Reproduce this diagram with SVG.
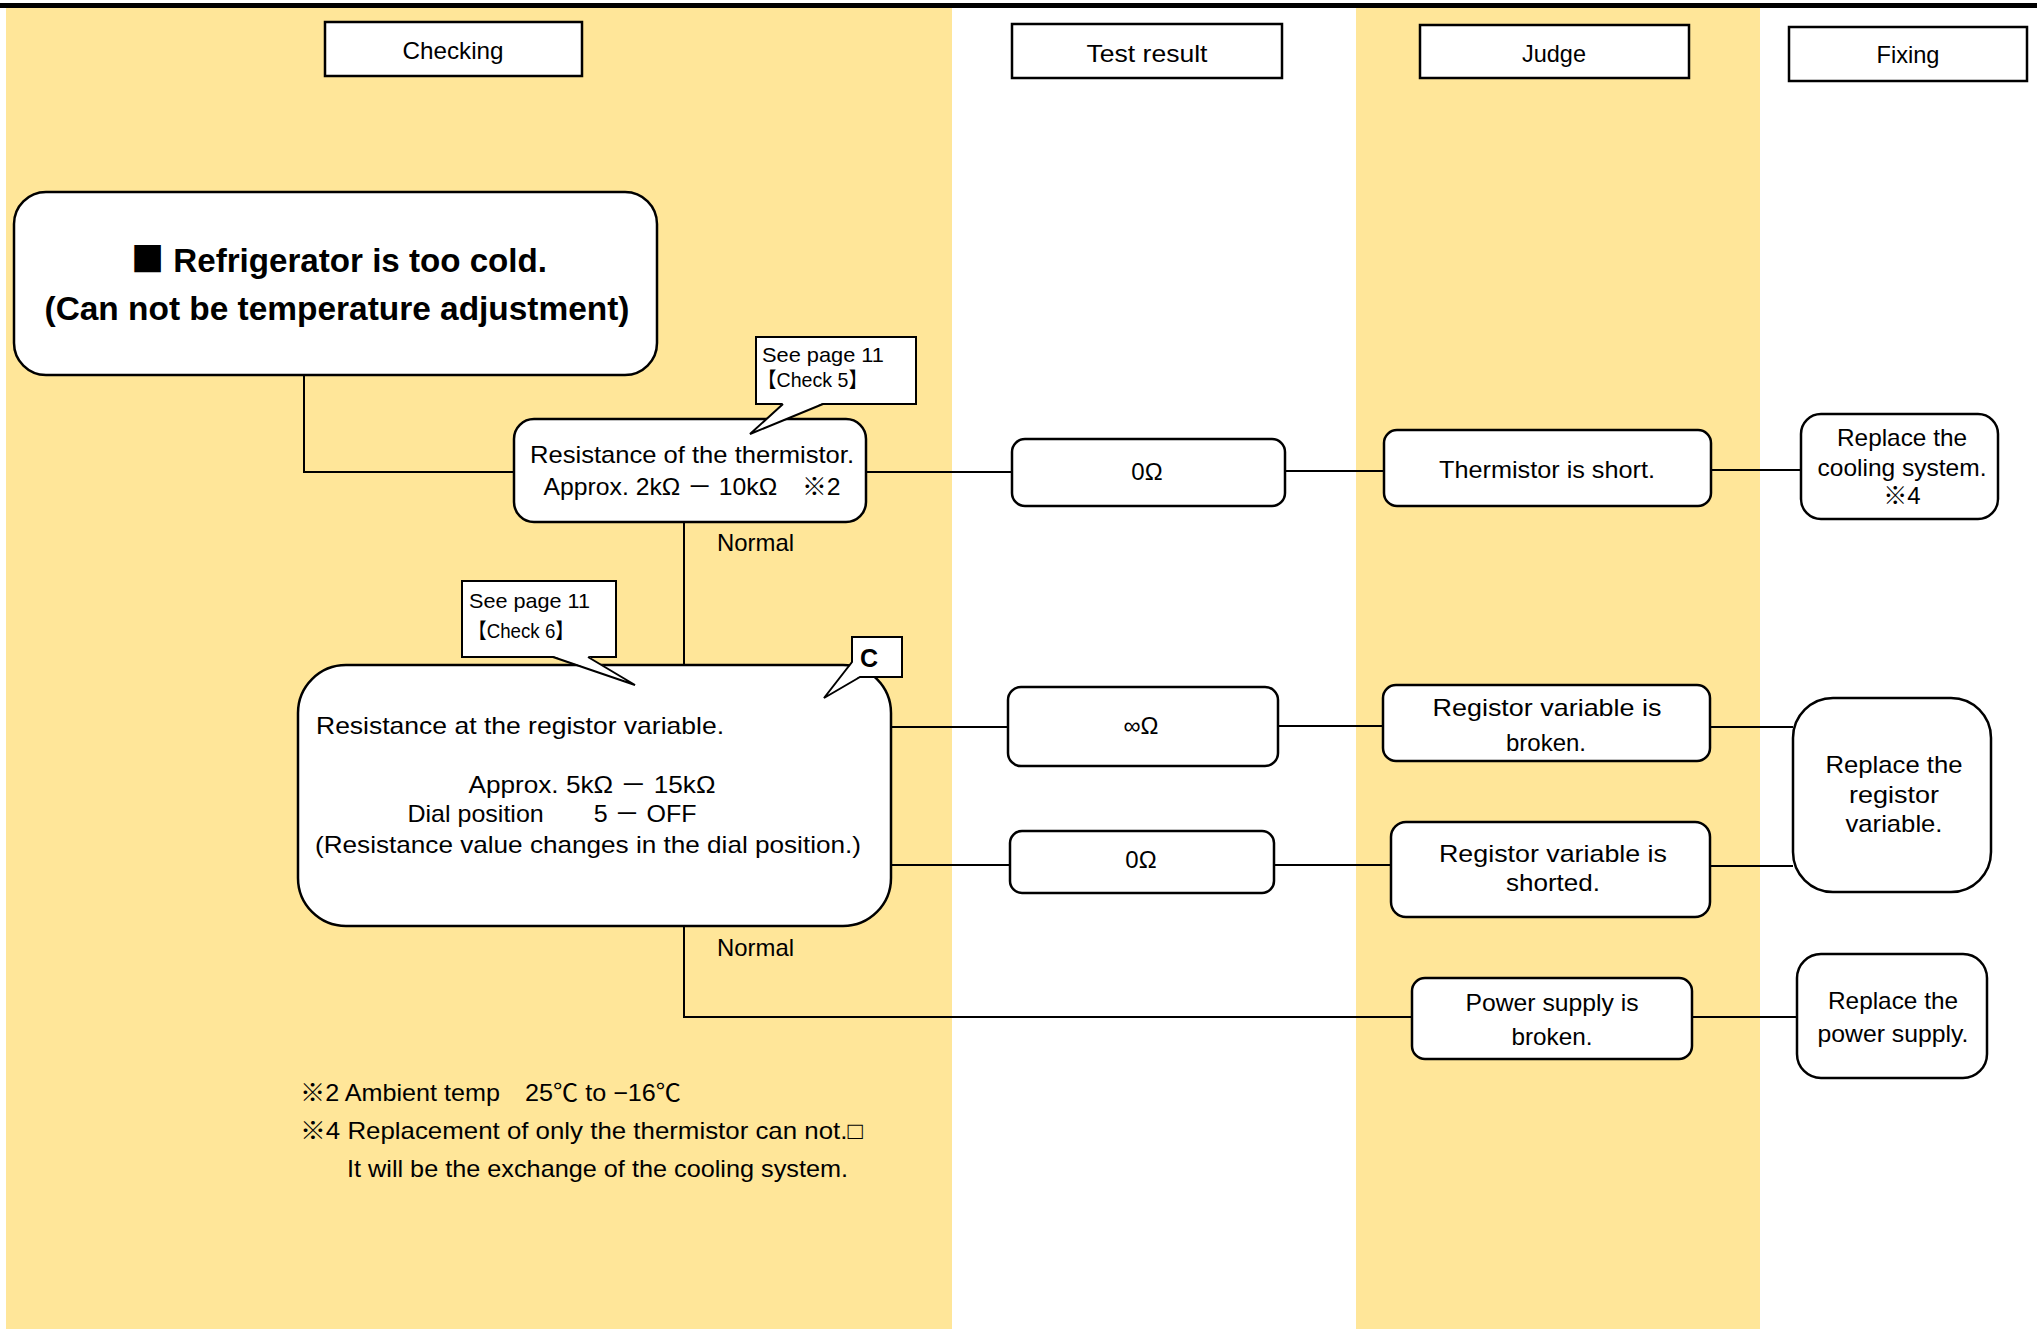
<svg xmlns="http://www.w3.org/2000/svg" width="2037" height="1329" viewBox="0 0 2037 1329">
<style>
text{font-family:"Liberation Sans","Noto Sans CJK JP",sans-serif;font-size:24px;fill:#000}
.cjk{font-family:"Noto Sans CJK JP",sans-serif}
.hdr{fill:#fff;stroke:#000;stroke-width:2.5}
.node{fill:#fff;stroke:#000;stroke-width:2.5}
.call{fill:#fff;stroke:#000;stroke-width:2}
.wire{fill:none;stroke:#000;stroke-width:2}
.m{text-anchor:middle}
.s{font-size:21px}
.t{font-size:34px;font-weight:bold}
</style>
<rect x="0" y="0" width="2037" height="1329" fill="#fff"/>
<rect x="6" y="8" width="946" height="1321" fill="#FFE699"/>
<rect x="1356" y="8" width="404" height="1321" fill="#FFE699"/>
<rect x="0" y="3" width="2037" height="5" fill="#000"/>

<g id="headers">
<g id="h-checking"><rect class="hdr" x="325" y="22" width="257" height="54"/><text class="m" x="453" y="59" textLength="101" lengthAdjust="spacingAndGlyphs">Checking</text></g>
<g id="h-test"><rect class="hdr" x="1012" y="24" width="270" height="54"/><text class="m" x="1147" y="62" textLength="121" lengthAdjust="spacingAndGlyphs">Test result</text></g>
<g id="h-judge"><rect class="hdr" x="1420" y="25" width="269" height="53"/><text class="m" x="1554" y="62" textLength="64" lengthAdjust="spacingAndGlyphs">Judge</text></g>
<g id="h-fixing"><rect class="hdr" x="1789" y="27" width="238" height="54"/><text class="m" x="1908" y="63" textLength="63" lengthAdjust="spacingAndGlyphs">Fixing</text></g>
</g>

<g id="connectors">
<polyline class="wire" points="304,375 304,472 514,472"/>
<line class="wire" x1="866" y1="472" x2="1012" y2="472"/>
<line class="wire" x1="1285" y1="471" x2="1384" y2="471"/>
<line class="wire" x1="1711" y1="470" x2="1801" y2="470"/>
<line class="wire" x1="684" y1="522" x2="684" y2="665"/>
<line class="wire" x1="891" y1="727" x2="1008" y2="727"/>
<line class="wire" x1="1278" y1="726" x2="1383" y2="726"/>
<line class="wire" x1="1710" y1="727" x2="1793" y2="727"/>
<line class="wire" x1="891" y1="865" x2="1010" y2="865"/>
<line class="wire" x1="1274" y1="865" x2="1391" y2="865"/>
<line class="wire" x1="1710" y1="866" x2="1793" y2="866"/>
<polyline class="wire" points="684,926 684,1017 1412,1017"/>
<line class="wire" x1="1692" y1="1017" x2="1797" y2="1017"/>
</g>

<g id="title">
<rect class="node" x="14" y="192" width="643" height="183" rx="32"/>
<text class="t m" x="339" y="272" textLength="416" lengthAdjust="spacingAndGlyphs"><tspan class="cjk">■</tspan> Refrigerator is too cold.</text>
<text class="t m" x="337" y="320" textLength="585" lengthAdjust="spacingAndGlyphs">(Can not be temperature adjustment)</text>
</g>

<g id="thermistor">
<rect class="node" x="514" y="419" width="352" height="103" rx="20"/>
<text class="m" x="692" y="463" textLength="324" lengthAdjust="spacingAndGlyphs">Resistance of the thermistor.</text>
<text class="m" x="692" y="495" textLength="297" lengthAdjust="spacingAndGlyphs">Approx. 2kΩ － 10kΩ　※2</text>
</g>

<g id="registor">
<rect class="node" x="298" y="665" width="593" height="261" rx="48"/>
<text x="316" y="734" textLength="408" lengthAdjust="spacingAndGlyphs">Resistance at the registor variable.</text>
<text class="m" x="592" y="793" textLength="247" lengthAdjust="spacingAndGlyphs">Approx. 5kΩ － 15kΩ</text>
<text class="m" x="552" y="822" textLength="289" lengthAdjust="spacingAndGlyphs">Dial position　　5 － OFF</text>
<text class="m" x="588" y="853" textLength="546" lengthAdjust="spacingAndGlyphs">(Resistance value changes in the dial position.)</text>
</g>

<g id="note-check5">
<rect class="call" x="756" y="337" width="160" height="67"/>
<polygon points="783,403 750,434 823,403" fill="#fff"/>
<polyline class="wire" points="783,404 750,434 823,404"/>
<text class="s" x="762" y="362" textLength="122" lengthAdjust="spacingAndGlyphs">See page 11</text>
<text class="s" x="757" y="387" textLength="111" lengthAdjust="spacingAndGlyphs">【Check 5】</text>
</g>

<g id="note-check6">
<rect class="call" x="462" y="581" width="154" height="76"/>
<polygon points="553,656 635,685 588,656" fill="#fff"/>
<polyline class="wire" points="553,657 635,685 588,657"/>
<text class="s" x="469" y="608" textLength="121" lengthAdjust="spacingAndGlyphs">See page 11</text>
<text class="s" x="468" y="638" textLength="106" lengthAdjust="spacingAndGlyphs">【Check 6】</text>
</g>

<g id="note-c">
<rect class="call" x="852" y="637" width="50" height="40"/>
<polygon points="853,662 824,698 860,676" fill="#fff"/>
<polyline class="wire" points="852,662 824,698 860,677"/>
<text class="m" x="869" y="667" style="font-size:25px;font-weight:bold">C</text>
</g>

<g id="label-normal-1"><text x="717" y="551" textLength="77" lengthAdjust="spacingAndGlyphs">Normal</text></g>
<g id="label-normal-2"><text x="717" y="956" textLength="77" lengthAdjust="spacingAndGlyphs">Normal</text></g>

<g id="r-0ohm-1"><rect class="node" x="1012" y="439" width="273" height="67" rx="13"/><text class="m" x="1147" y="480">0Ω</text></g>
<g id="j-thermistor-short"><rect class="node" x="1384" y="430" width="327" height="76" rx="13"/><text class="m" x="1547" y="478" textLength="216" lengthAdjust="spacingAndGlyphs">Thermistor is short.</text></g>
<g id="f-cooling"><rect class="node" x="1801" y="414" width="197" height="105" rx="20"/>
<text class="m" x="1902" y="446" textLength="130" lengthAdjust="spacingAndGlyphs">Replace the</text>
<text class="m" x="1902" y="476" textLength="169" lengthAdjust="spacingAndGlyphs">cooling system.</text>
<text class="m" x="1902" y="504">※4</text></g>

<g id="r-inf"><rect class="node" x="1008" y="687" width="270" height="79" rx="13"/><text class="m" x="1141" y="734">∞Ω</text></g>
<g id="j-broken"><rect class="node" x="1383" y="685" width="327" height="76" rx="13"/>
<text class="m" x="1547" y="716" textLength="229" lengthAdjust="spacingAndGlyphs">Registor variable is</text>
<text class="m" x="1546" y="751" textLength="80" lengthAdjust="spacingAndGlyphs">broken.</text></g>

<g id="r-0ohm-2"><rect class="node" x="1010" y="831" width="264" height="62" rx="12"/><text class="m" x="1141" y="868">0Ω</text></g>
<g id="j-shorted"><rect class="node" x="1391" y="822" width="319" height="95" rx="15"/>
<text class="m" x="1553" y="862" textLength="228" lengthAdjust="spacingAndGlyphs">Registor variable  is</text>
<text class="m" x="1553" y="891" textLength="94" lengthAdjust="spacingAndGlyphs">shorted.</text></g>

<g id="f-registor"><rect class="node" x="1793" y="698" width="198" height="194" rx="40"/>
<text class="m" x="1894" y="773" textLength="137" lengthAdjust="spacingAndGlyphs">Replace the</text>
<text class="m" x="1894" y="803" textLength="90" lengthAdjust="spacingAndGlyphs">registor</text>
<text class="m" x="1894" y="832" textLength="97" lengthAdjust="spacingAndGlyphs">variable.</text></g>

<g id="j-power"><rect class="node" x="1412" y="978" width="280" height="81" rx="13"/>
<text class="m" x="1552" y="1011" textLength="173" lengthAdjust="spacingAndGlyphs">Power supply is</text>
<text class="m" x="1552" y="1045" textLength="81" lengthAdjust="spacingAndGlyphs">broken.</text></g>

<g id="f-power"><rect class="node" x="1797" y="954" width="190" height="124" rx="24"/>
<text class="m" x="1893" y="1009" textLength="130" lengthAdjust="spacingAndGlyphs">Replace the</text>
<text class="m" x="1893" y="1042" textLength="151" lengthAdjust="spacingAndGlyphs">power supply.</text></g>

<g id="footnotes">
<text x="300" y="1101" textLength="381" lengthAdjust="spacingAndGlyphs">※2 Ambient temp　25℃ to −16℃</text>
<text x="300" y="1139" textLength="563" lengthAdjust="spacingAndGlyphs">※4 Replacement of only the thermistor can not.□</text>
<text x="347" y="1177" textLength="501" lengthAdjust="spacingAndGlyphs">It will be the exchange of the cooling system.</text>
</g>
</svg>
